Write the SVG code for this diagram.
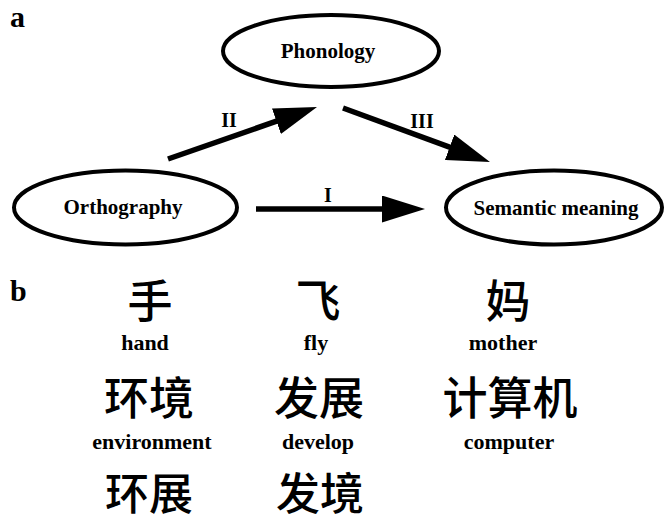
<svg xmlns="http://www.w3.org/2000/svg" width="666" height="523" viewBox="0 0 666 523">
<style>
.node ellipse{fill:#fff;stroke:#000;stroke-width:4}
.lbl{font-family:"Liberation Serif","Times New Roman",serif;font-weight:bold;fill:#000;text-anchor:middle}
.nt{font-size:21px}
.pl{font-size:20px}
.panel{font-family:"Liberation Serif","Times New Roman",serif;font-weight:bold;font-size:30px;fill:#000}
.en{font-size:22px}
.zh{font-family:"Noto Sans CJK SC","Noto Sans CJK TC",sans-serif;font-weight:500;font-size:45px;fill:#000;text-anchor:middle}
.conn line{stroke:#000;stroke-width:5.5}
</style>
<defs>
<marker id="ah" viewBox="0 0 43 27" markerWidth="43" markerHeight="27" markerUnits="userSpaceOnUse" refX="13" refY="13.5" orient="auto">
<path d="M0,0 L43,13.5 L0,27 z" fill="#000"/>
</marker>
</defs>
<rect width="666" height="523" fill="#fff"/>
<text class="panel" x="10" y="27">a</text>
<g id="phonology" class="node">
<ellipse cx="331" cy="51" rx="108" ry="36"/>
<text class="lbl nt" x="328" y="58">Phonology</text>
</g>
<g id="orthography" class="node">
<ellipse cx="125.5" cy="207.5" rx="111.5" ry="37"/>
<text class="lbl nt" x="123" y="214">Orthography</text>
</g>
<g id="semantic" class="node">
<ellipse cx="554" cy="207.5" rx="108" ry="37"/>
<text class="lbl nt" x="556" y="215">Semantic meaning</text>
</g>
<g id="connectors" class="conn">
<line x1="256" y1="209" x2="395" y2="209" marker-end="url(#ah)"/>
<line x1="168" y1="159" x2="288.7" y2="116.9" marker-end="url(#ah)"/>
<line x1="343" y1="108" x2="461.8" y2="151.7" marker-end="url(#ah)"/>
<text class="lbl pl" x="328" y="202">I</text>
<text class="lbl pl" x="229" y="127">II</text>
<text class="lbl pl" x="422" y="128">III</text>
</g>
<text class="panel" x="10" y="301">b</text>
<g id="chars">
<text class="zh" x="150" y="318">手</text>
<text class="zh" x="318" y="318">飞</text>
<text class="zh" x="508" y="318">妈</text>
<text class="lbl en" x="145" y="350">hand</text>
<text class="lbl en" x="316" y="350">fly</text>
<text class="lbl en" x="503" y="350">mother</text>
<text class="zh" x="149" y="415">环境</text>
<text class="zh" x="319" y="415">发展</text>
<text class="zh" x="510" y="415">计算机</text>
<text class="lbl en" x="152" y="449">environment</text>
<text class="lbl en" x="318" y="449">develop</text>
<text class="lbl en" x="509" y="449">computer</text>
<text class="zh" x="149" y="510" style="font-size:44px">环展</text>
<text class="zh" x="320" y="510" style="font-size:44px">发境</text>
</g>
</svg>
